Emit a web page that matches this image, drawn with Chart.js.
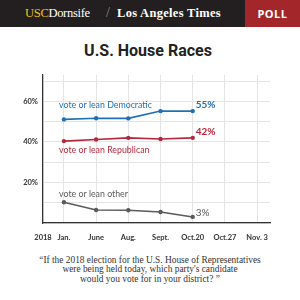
<!DOCTYPE html>
<html><head><meta charset="utf-8">
<script src="https://cdn.jsdelivr.net/npm/chart.js@4"></script>
<style>
html,body{margin:0;padding:0;background:#fff;}
#wrap{position:relative;width:300px;height:300px;overflow:hidden;}
#hdr{position:absolute;left:0;top:0;width:300px;height:27px;background:#231f20;}
#poll{position:absolute;left:245px;top:0;width:55px;height:27px;background:#a3262a;color:#fff;font:bold 11px "Open Sans",sans-serif;text-align:center;line-height:27px;letter-spacing:0.5px;}
#usc{position:absolute;left:25px;top:6px;font:12.5px "Liberation Serif",serif;color:#fff;letter-spacing:-0.3px;white-space:nowrap;}
#usc b{color:#f3c316;font-weight:normal;}
#slash{position:absolute;left:106px;top:5px;font:14px "Liberation Serif",serif;color:#888;}
#lat{position:absolute;left:117px;top:6px;font:bold 12.5px "Liberation Serif",serif;color:#fff;white-space:nowrap;letter-spacing:0.3px;}
#title{position:absolute;left:0;top:41px;width:296px;text-align:center;font:bold 16px "Roboto",sans-serif;color:#222;}
#quote{position:absolute;left:0;top:256px;width:300px;text-align:center;font:9.4px/9.4px "Liberation Serif",serif;color:#333;}
canvas{position:absolute;left:0;top:0;}
</style></head>
<body><div id="wrap">
<div id="hdr"></div>
<div id="usc"><b>USC</b>Dornsife</div>
<div id="slash">/</div>
<div id="lat">Los Angeles Times</div>
<div id="poll">POLL</div>
<div id="title">U.S. House Races</div>
<div id="quote">“If the 2018 election for the U.S. House of Representatives<br>were being held today, which party's candidate<br>would you vote for in your district? ”</div>
<canvas id="c" width="300" height="300"></canvas>
</div>
<script>
const xTickLabels = ["2018","Jan.","June","Aug.","Sept.","Oct.20","Oct.27","Nov. 3"];
const xTickValues = [-0.65,0,1,2,3,4,5,6];
const surveyX = [0,1,2,3,4];
const democratic = [51.1,51.7,51.6,55.2,55.2];
const republican = [40.4,41.2,42.0,41.4,42.0];
const other = [10.2,6.4,6.3,5.4,3.0];
const seriesNames = ["vote or lean Democratic","vote or lean Republican","vote or lean other"];
const endLabels = ["55%","42%","3%"];
const yTickValues = [0,10,20,30,40,50,60,70];
const yTickLabels = {20:"20%",40:"40%",60:"60%"};

const colors = ["#1f70b4","#b5283c","#5a5a5a"];
const pts = a => a.map((v,i)=>({x:surveyX[i],y:v}));

const labelPlugin = {
  id:'labels',
  afterDatasetsDraw(chart){
    const ctx = chart.ctx, xs = chart.scales.x, ys = chart.scales.y;
    const namePos = [[-0.15,58],[-0.15,36],[-0.15,14.3]];
    const endDy = [-6,-6.5,-4];
    ctx.save();
    ctx.textBaseline='middle';
    for(let i=0;i<3;i++){
      ctx.fillStyle = colors[i];
      ctx.font = '8.8px Lato, sans-serif';
      ctx.textAlign='left';
      ctx.fillText(seriesNames[i], xs.getPixelForValue(namePos[i][0]), ys.getPixelForValue(namePos[i][1]));
      const meta = chart.getDatasetMeta(i);
      const last = meta.data[meta.data.length-1];
      ctx.font = (i<2?'bold ':'')+'10px Lato, sans-serif';
      ctx.fillText(endLabels[i], last.x+3, last.y+endDy[i]);
    }
    ctx.restore();
  }
};

new Chart(document.getElementById('c'),{
  type:'line',
  data:{datasets:[democratic,republican,other].map((d,i)=>({
    data:pts(d), borderColor:colors[i], backgroundColor:colors[i],
    borderWidth:1.6, pointRadius:2.2, pointBorderWidth:0, tension:0
  }))},
  options:{
    responsive:false, animation:false,
    layout:{padding:{top:75,right:30,bottom:52,left:0}},
    plugins:{legend:{display:false},tooltip:{enabled:false}},
    scales:{
      x:{type:'linear',min:-0.65,max:6.4,
        afterBuildTicks(s){s.ticks=xTickValues.map(v=>({value:v}));},
        afterFit(s){s.height=25;},
        grid:{color:'#e4e4e4',lineWidth:1,drawTicks:false},
        border:{color:'#333',width:1.2},
        ticks:{padding:10,color:'#333',font:{family:'Lato',weight:'bold',size:7.5},
          callback:(v,i)=>xTickLabels[i], maxRotation:0, autoSkip:false}},
      y:{min:0,max:73,
        afterBuildTicks(s){s.ticks=yTickValues.map(v=>({value:v}));},
        afterFit(s){s.width=43;},
        grid:{color:'#e4e4e4',lineWidth:1,drawTicks:false},
        border:{color:'#333',width:1.2},
        ticks:{padding:5,color:'#333',font:{family:'Lato',weight:'bold',size:7.5},
          callback:v=>yTickLabels[v]||''}}
    }
  },
  plugins:[labelPlugin]
});
</script>
</body></html>
